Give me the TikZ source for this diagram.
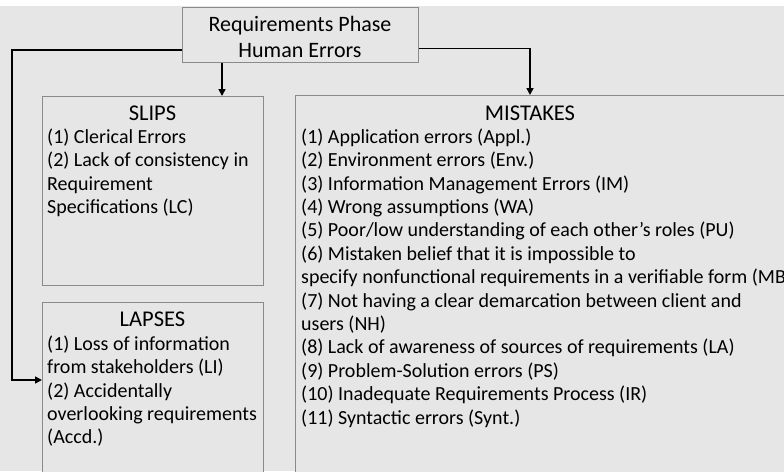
\documentclass[tikz,border=0pt]{standalone}
\usepackage{fontspec}
\setmainfont{Carlito}
\usetikzlibrary{arrows.meta}
\definecolor{panel}{HTML}{E6E6E6}
\definecolor{edge}{HTML}{8A8A8A}
\tikzset{
  box/.style={draw=edge, line width=0.9pt, fill=panel, inner sep=0pt},
  title/.style={font=\fontsize{22}{26}\selectfont, inner sep=0pt, anchor=base},
  head/.style={font=\fontsize{22.5}{26}\selectfont, inner sep=0pt, anchor=base},
  items/.style={font=\fontsize{20}{23.4}\selectfont, inner sep=0pt, align=left, anchor=north west},
  link/.style={draw=black, line width=1.6pt, -{Triangle[length=7pt,width=7pt]}},
}
\begin{document}
\begin{tikzpicture}[x=1pt,y=-1pt]
  % canvas
  \fill[white] (0,0) rectangle (784,471);
  \fill[panel] (0,6) rectangle (784,471);
  \useasboundingbox (0,0) rectangle (784,471);
  \begin{scope}
    \clip (0,0) rectangle (784,471);

    % boxes
    \node[box, minimum width=236pt, minimum height=55pt, anchor=north west] (top) at (182,7) {};
    \node[box, minimum width=221pt, minimum height=189pt, anchor=north west] (slips) at (42,96) {};
    \node[box, minimum width=221pt, minimum height=200pt, anchor=north west] (lapses) at (42,302) {};
    \node[box, minimum width=520pt, minimum height=400pt, anchor=north west] (mistakes) at (295,95) {};

    % top label
    \node[title] (t1) at (300,31.7) {Requirements Phase};
    \node[title] (t2) at (300,57.3) {Human Errors};

    % headings
    \node[head] (hs) at (152.5,120) {SLIPS};
    \node[head] (hl) at (152.5,326.5) {LAPSES};
    \node[head] (hm) at (530,120) {MISTAKES};

    % lists
    \node[items] (ls) at (47,128.5) {(1) Clerical Errors\\(2) Lack of consistency in\\Requirement\\Specifications (LC)};
    \node[items] (ll) at (47,335.5) {(1) Loss of information\\from stakeholders (LI)\\(2) Accidentally\\overlooking requirements\\(Accd.)};
    \node[items] (lm) at (301,128.5) {(1) Application errors (Appl.)\\
(2) Environment errors (Env.)\\
(3) Information Management Errors (IM)\\
(4) Wrong assumptions (WA)\\
(5) Poor/low understanding of each other's roles (PU)\\
(6) Mistaken belief that it is impossible to\\
specify nonfunctional requirements in a verifiable form (MB)\\
(7) Not having a clear demarcation between client and\\
users (NH)\\
(8) Lack of awareness of sources of requirements (LA)\\
(9) Problem-Solution errors (PS)\\
(10) Inadequate Requirements Process (IR)\\
(11) Syntactic errors (Synt.)};

    % connectors
    \coordinate (leftturn) at (12,380);
    \draw[link] ([yshift=-43pt]top.north west) -| (leftturn) -- (leftturn -| lapses.west);
    \draw[link] ([xshift=40pt]top.south west) -- ([xshift=40pt]top.south west |- slips.north);
    \draw[link] ([yshift=-41.5pt]top.north east) -| ([xshift=235pt]mistakes.north west);
  \end{scope}
\end{tikzpicture}
\end{document}
